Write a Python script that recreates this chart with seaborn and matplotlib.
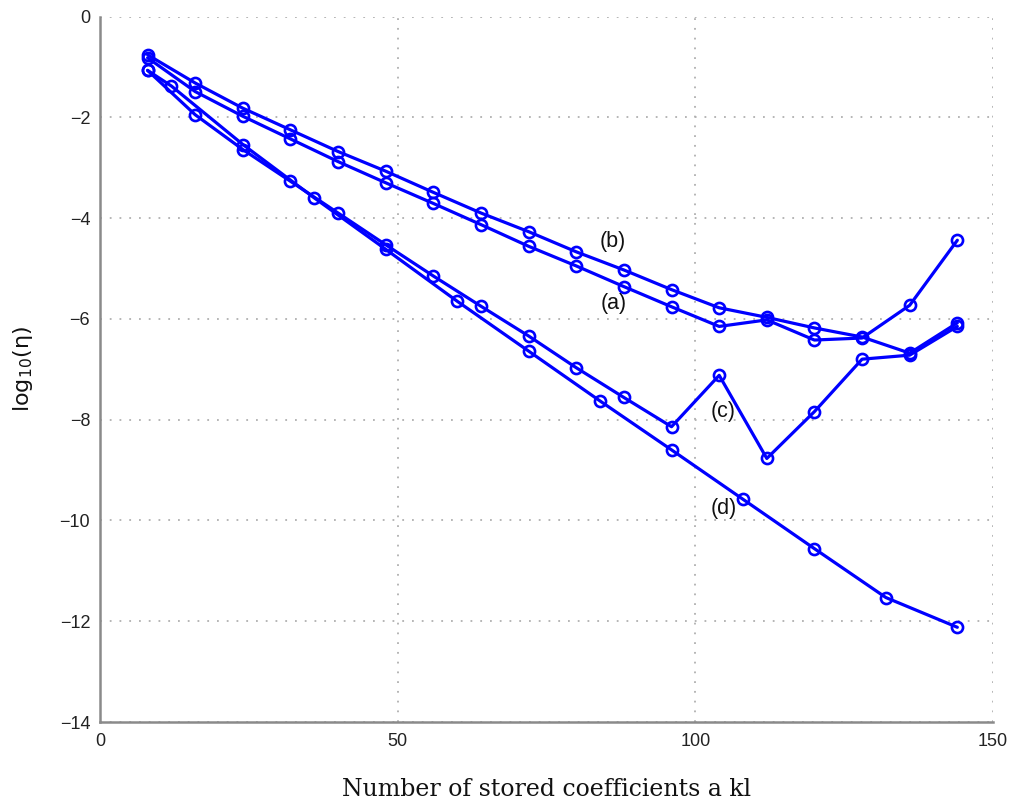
import matplotlib
matplotlib.use("Agg")
import matplotlib.pyplot as plt
import seaborn as sns
import pandas as pd

# Series (a)
x_a = [8, 16, 24, 32, 40, 48, 56, 64, 72, 80, 88, 96, 104, 112, 120, 128, 136, 144]
y_a = [-0.82, -1.49, -1.98, -2.43, -2.88, -3.30, -3.71, -4.13, -4.56, -4.95, -5.36, -5.76, -6.15,
       -6.02, -6.42, -6.38, -5.73, -4.44]
# Series (b)
x_b = [8, 16, 24, 32, 40, 48, 56, 64, 72, 80, 88, 96, 104, 112, 120, 128, 136, 144]
y_b = [-0.76, -1.32, -1.82, -2.25, -2.68, -3.07, -3.49, -3.90, -4.27, -4.67, -5.03, -5.42, -5.78,
       -5.97, -6.18, -6.36, -6.68, -6.08]
# Series (c)
x_c = [8, 16, 24, 32, 40, 48, 56, 64, 72, 80, 88, 96, 104, 112, 120, 128, 136, 144]
y_c = [-1.07, -1.95, -2.64, -3.27, -3.90, -4.53, -5.15, -5.75, -6.34, -6.97, -7.56, -8.14, -7.12,
       -8.77, -7.84, -6.80, -6.72, -6.15]
# Series (d)
x_d = [8, 12, 24, 36, 48, 60, 72, 84, 96, 108, 120, 132, 144]
y_d = [-1.07, -1.38, -2.54, -3.60, -4.62, -5.65, -6.64, -7.63, -8.60, -9.58, -10.56, -11.53, -12.12]

labels = ["(a)", "(b)", "(c)", "(d)"]
label_pos = [(86.2, -5.69), (86.2, -4.46), (104.7, -7.83), (104.8, -9.77)]

x_ticks = [0, 50, 100, 150]
y_ticks = [0, -2, -4, -6, -8, -10, -12, -14]

sns.set_style("white")
plt.rcParams['font.family'] = ['Liberation Sans', 'DejaVu Sans']

fig = plt.figure(figsize=(10.18, 8.01), dpi=100)
ax = fig.add_axes([0.0982, 0.0986, 0.8773, 0.8808])

series = [(x_a, y_a), (x_b, y_b), (x_c, y_c), (x_d, y_d)]
for xs, ys in series:
    df = pd.DataFrame({"x": xs, "y": ys})
    sns.lineplot(data=df, x="x", y="y", ax=ax, color="#0000ff", linewidth=2.3,
                 marker="o", markersize=8, markerfacecolor="none",
                 markeredgecolor="#0000ff", markeredgewidth=1.9, sort=False,
                 estimator=None)

for lab, (lx, ly) in zip(labels, label_pos):
    ax.text(lx, ly, lab, ha="center", va="center", fontsize=15.5, color="#111111")

ax.set_xlim(0, 150)
ax.set_ylim(-14, 0)
ax.set_xticks(x_ticks)
ax.set_yticks(y_ticks)
ax.set_xticklabels([str(v) for v in x_ticks])
ax.set_yticklabels([("\u2212" + str(-v)) if v < 0 else str(v) for v in y_ticks])
ax.grid(True, linestyle=(0, (1, 4.4)), color="#b0b0b0", linewidth=1.3)
ax.tick_params(direction="in", length=5, width=1, colors="#333333", labelsize=13,
               labelcolor="#222222")
ax.tick_params(axis="x", pad=8)
ax.tick_params(axis="y", pad=7)
for s in ["top", "right"]:
    ax.spines[s].set_visible(False)
for s in ["left", "bottom"]:
    ax.spines[s].set_color("#8a8a8a")
    ax.spines[s].set_linewidth(1.8)

ax.set_xlabel("Number of stored coefficients a kl", fontsize=17,
              family=["DejaVu Serif"], color="#111111")
ax.set_ylabel("log$_{10}$(\u03b7)", fontsize=16, family=["DejaVu Sans"], color="#111111")
ax.xaxis.set_label_coords(0.5, -0.079)
ax.yaxis.set_label_coords(-0.073, 0.5)

fig.savefig("out.png", dpi=100)
